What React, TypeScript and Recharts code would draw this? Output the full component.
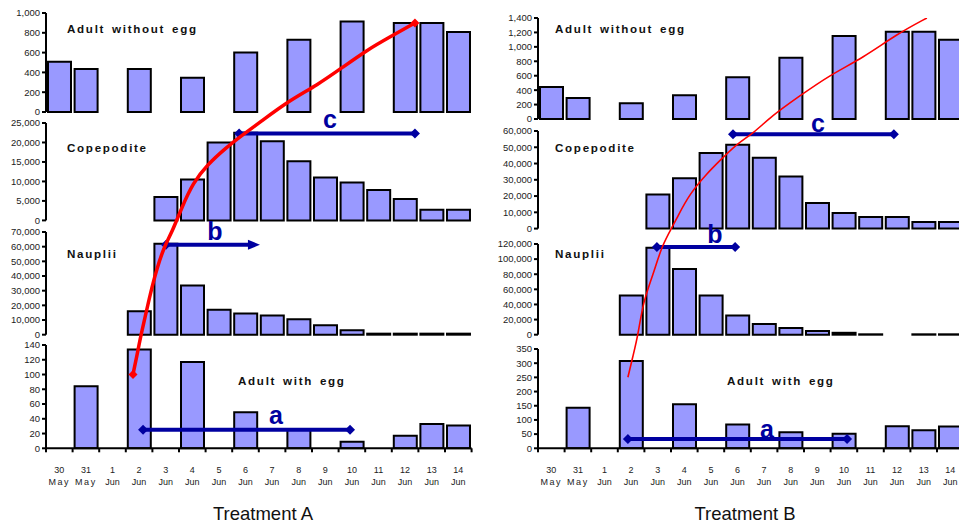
import React from "react";
import { ComposedChart, LineChart, Bar, Line, XAxis, YAxis } from "recharts";

// categories: 30 May .. 14 Jun
const dayLabels = ["30", "31", "1", "2", "3", "4", "5", "6", "7", "8", "9", "10", "11", "12", "13", "14"];
const monthLabels = ["May", "May", "Jun", "Jun", "Jun", "Jun", "Jun", "Jun", "Jun", "Jun", "Jun", "Jun", "Jun", "Jun", "Jun", "Jun"];

// Treatment A
const aAdult = [508, 434, null, 434, null, 346, null, 600, null, 729, null, 915, null, 898, 898, 807];
const aCope = [null, null, null, null, 6000, 10500, 20000, 22500, 20300, 15200, 11000, 9700, 7800, 5500, 2700, 2700];
const aNaup = [null, null, null, 16000, 62000, 33500, 17000, 14500, 13000, 10500, 6500, 3000, 700, 700, 700, 700];
const aEgg = [null, 84, null, 134, null, 117, null, 49, null, 25, null, 9, null, 17, 33, 31];

// Treatment B
const bAdult = [445, 290, null, 220, null, 330, null, 580, null, 850, null, 1150, null, 1210, 1210, 1100];
const bCope = [null, null, null, null, 21000, 31000, 46500, 51500, 43500, 32000, 15700, 9600, 7200, 7200, 4000, 4000];
const bNaup = [null, null, null, 52000, 115000, 87000, 52000, 25500, 14000, 9000, 5000, 2500, 500, null, 500, 500];
const bEgg = [null, 143, null, 308, null, 155, null, 84, null, 57, null, 51, null, 78, 64, 77];

// y ticks
const aAdultTicks = [0, 200, 400, 600, 800, 1000];
const aCopeTicks = [0, 5000, 10000, 15000, 20000, 25000];
const aNaupTicks = [0, 10000, 20000, 30000, 40000, 50000, 60000, 70000];
const aEggTicks = [0, 20, 40, 60, 80, 100, 120, 140];
const bAdultTicks = [0, 200, 400, 600, 800, 1000, 1200, 1400];
const bCopeTicks = [0, 10000, 20000, 30000, 40000, 50000, 60000];
const bNaupTicks = [0, 20000, 40000, 60000, 80000, 100000, 120000];
const bEggTicks = [0, 50, 100, 150, 200, 250, 300, 350];

// blue duration arrows (x = day index, v = value on that panel's axis)
const aArrowA = [{ x: 3.15, v: 25 }, { x: 10.93, v: 25 }];
const aArrowB = [{ x: 4.01, v: 61300 }, { x: 7.28, v: 61300 }];
const aArrowC = [{ x: 6.76, v: 22300 }, { x: 13.37, v: 22300 }];
const bArrowA = [{ x: 2.88, v: 33 }, { x: 11.12, v: 33 }];
const bArrowB = [{ x: 3.97, v: 116000 }, { x: 6.91, v: 116000 }];
const bArrowC = [{ x: 6.83, v: 58000 }, { x: 12.88, v: 58000 }];

type Stage = "adult" | "cope" | "naup" | "egg";

// red development curve, points given on the stage axis they sit on
const curveA: { x: number; s: Stage; v: number }[] = [
  { x: 2.77, s: "egg", v: 100 },
  { x: 2.96, s: "egg", v: 133 },
  { x: 3.07, s: "naup", v: 0 },
  { x: 3.22, s: "naup", v: 11600 },
  { x: 3.41, s: "naup", v: 27300 },
  { x: 3.67, s: "naup", v: 45700 },
  { x: 3.97, s: "naup", v: 61300 },
  { x: 4.24, s: "naup", v: 70200 },
  { x: 4.61, s: "cope", v: 3500 },
  { x: 5.03, s: "cope", v: 9700 },
  { x: 5.55, s: "cope", v: 14300 },
  { x: 6.3, s: "cope", v: 18900 },
  { x: 6.79, s: "cope", v: 21500 },
  { x: 7.55, s: "cope", v: 25300 },
  { x: 8.67, s: "adult", v: 120 },
  { x: 9.69, s: "adult", v: 270 },
  { x: 10.67, s: "adult", v: 455 },
  { x: 11.57, s: "adult", v: 626 },
  { x: 12.43, s: "adult", v: 758 },
  { x: 13.37, s: "adult", v: 900 },
];
const curveB: { x: number; s: Stage; v: number }[] = [
  { x: 2.88, s: "egg", v: 250 },
  { x: 3.07, s: "egg", v: 325 },
  { x: 3.26, s: "naup", v: 0 },
  { x: 3.45, s: "naup", v: 43700 },
  { x: 3.82, s: "naup", v: 79400 },
  { x: 4.16, s: "naup", v: 119000 },
  { x: 4.58, s: "cope", v: 2000 },
  { x: 4.73, s: "cope", v: 6900 },
  { x: 5.21, s: "cope", v: 21700 },
  { x: 5.85, s: "cope", v: 34000 },
  { x: 6.34, s: "cope", v: 42000 },
  { x: 6.98, s: "cope", v: 52400 },
  { x: 7.58, s: "cope", v: 58600 },
  { x: 8.3, s: "adult", v: 60 },
  { x: 9.24, s: "adult", v: 309 },
  { x: 10.48, s: "adult", v: 628 },
  { x: 11.72, s: "adult", v: 864 },
  { x: 13.0, s: "adult", v: 1196 },
  { x: 14.12, s: "adult", v: 1418 },
];

const FONT = "'Liberation Sans', Arial, sans-serif";
const BAR_FILL = "#9999ff";
const BLUE = "#0000a0";
const RED = "#ff0000";
const YW = 46;
const BAND = 26.6;
const PW = BAND * 16;

type Layout = { x0: number; panels: Record<Stage, [number, number]>; max: Record<Stage, number> };

const layoutA: Layout = {
  x0: 46,
  panels: { adult: [13, 112], cope: [123.3, 220.7], naup: [232.3, 335], egg: [345, 448.3] },
  max: { adult: 1000, cope: 25000, naup: 70000, egg: 140 },
};
const layoutB: Layout = {
  x0: 538,
  panels: { adult: [18.3, 119.3], cope: [130.7, 228.3], naup: [244.3, 335], egg: [349, 448.3] },
  max: { adult: 1400, cope: 60000, naup: 120000, egg: 350 },
};

const rowsOf = (values: (number | null)[]) => dayLabels.map((_, i) => ({ day: i, v: values[i] }));

function DayTick(props: any) {
  const { x, y, payload } = props;
  const i = Number(payload.value);
  const mark = (px: number) => <line x1={px} x2={px} y1={y - 4} y2={y} stroke="#000" strokeWidth={2} />;
  return (
    <g>
      {mark(x - BAND / 2)}
      {i === dayLabels.length - 1 && mark(x + BAND / 2)}
      <text x={x} y={y + 21} textAnchor="middle" fontSize={9} fontFamily={FONT} fill="#222">
        {dayLabels[i]}
      </text>
      <text x={x} y={y + 33} textAnchor="middle" fontSize={9} fontFamily={FONT} fill="#222" letterSpacing={monthLabels[i] === "May" ? 1.6 : 0}>
        {monthLabels[i]}
      </text>
    </g>
  );
}

function markerDot(color: string, r: number, count: number, arrowRight = false) {
  return (props: any) => {
    const { cx, cy, index } = props;
    if (cx == null || cy == null || (index !== 0 && index !== count - 1)) return <g key={index} />;
    if (index === count - 1 && arrowRight)
      return <path key={index} d={`M${cx + r + 2},${cy} L${cx - r},${cy - r} L${cx - r},${cy + r} Z`} fill={color} />;
    return <path key={index} d={`M${cx - r},${cy} L${cx},${cy - r} L${cx + r},${cy} L${cx},${cy + r} Z`} fill={color} />;
  };
}

function Panel(props: {
  layout: Layout;
  stage: Stage;
  values: (number | null)[];
  ticks: number[];
  arrow?: { x: number; v: number }[];
  arrowHead?: boolean;
  bottom?: boolean;
}) {
  const { layout, stage, values, ticks, arrow, arrowHead, bottom } = props;
  const [top, base] = layout.panels[stage];
  const mTop = 8;
  const mBottom = bottom ? 0 : 8;
  const xh = bottom ? 44 : 0;
  return (
    <div style={{ position: "absolute", left: layout.x0 - YW, top: top - mTop }}>
      <ComposedChart
        width={YW + PW + 6}
        height={mTop + (base - top) + mBottom + xh}
        data={rowsOf(values)}
        margin={{ top: mTop, right: 6, bottom: mBottom, left: 0 }}
        accessibilityLayer={false}
      >
        <XAxis
          xAxisId="c"
          dataKey="day"
          type="category"
          hide={!bottom}
          height={xh || 1}
          interval={0}
          tick={<DayTick />}
          tickSize={4}
          tickMargin={0}
          tickLine={false}
          axisLine={{ stroke: "#000", strokeWidth: 2 }}
        />
        <XAxis xAxisId="n" dataKey="x" type="number" domain={[-0.5, 15.5]} hide />
        <YAxis
          type="number"
          domain={[0, ticks[ticks.length - 1]]}
          ticks={ticks}
          interval={0}
          width={YW}
          tickSize={4}
          tickMargin={2}
          axisLine={{ stroke: "#000", strokeWidth: 2 }}
          tickLine={{ stroke: "#000", strokeWidth: 2 }}
          tick={{ fontSize: 9.5, fill: "#222", fontFamily: FONT }}
          tickFormatter={(v: number) => v.toLocaleString("en-US")}
        />
        <Bar xAxisId="c" dataKey="v" fill={BAR_FILL} stroke="#000" strokeWidth={2} barSize={23} isAnimationActive={false} />
        {arrow && (
          <Line
            xAxisId="n"
            data={arrow}
            dataKey="v"
            stroke={BLUE}
            strokeWidth={4}
            dot={markerDot(BLUE, 5, arrow.length, arrowHead)}
            activeDot={false}
            isAnimationActive={false}
          />
        )}
      </ComposedChart>
    </div>
  );
}

function Curve({ layout, points, width, marks }: { layout: Layout; points: { x: number; s: Stage; v: number }[]; width: number; marks?: boolean }) {
  const top = layout.panels.adult[0];
  const bottom = layout.panels.egg[1];
  const h = bottom - top;
  const toY = (s: Stage, v: number) => {
    const [pt, pb] = layout.panels[s];
    return bottom - (pb - (v / layout.max[s]) * (pb - pt));
  };
  const data = points.map((p) => ({ x: p.x, y: toY(p.s, p.v) }));
  return (
    <div style={{ position: "absolute", left: layout.x0, top, pointerEvents: "none" }}>
      <LineChart width={PW} height={h} data={data} margin={{ top: 0, right: 0, bottom: 0, left: 0 }} accessibilityLayer={false}>
        <XAxis type="number" dataKey="x" domain={[-0.5, 15.5]} hide />
        <YAxis type="number" domain={[0, h]} hide />
        <Line
          dataKey="y"
          type="basis"
          stroke={RED}
          strokeWidth={width}
          dot={marks ? markerDot(RED, 4.5, data.length) : false}
          activeDot={false}
          isAnimationActive={false}
        />
      </LineChart>
    </div>
  );
}

const titleStyle = { fontFamily: FONT, fontWeight: 700, fontSize: 11.6, fill: "#111", letterSpacing: 1.7, wordSpacing: 2 } as const;
const letterStyle = { fontFamily: FONT, fontWeight: 700, fontSize: 25, fill: BLUE } as const;

export default function App() {
  return (
    <div style={{ position: "fixed", left: 0, top: 0, width: 959, height: 529, overflow: "hidden", background: "#fff" }}>
      <Panel layout={layoutA} stage="adult" values={aAdult} ticks={aAdultTicks} />
      <Panel layout={layoutA} stage="cope" values={aCope} ticks={aCopeTicks} arrow={aArrowC} />
      <Panel layout={layoutA} stage="naup" values={aNaup} ticks={aNaupTicks} arrow={aArrowB} arrowHead />
      <Panel layout={layoutA} stage="egg" values={aEgg} ticks={aEggTicks} arrow={aArrowA} bottom />

      <Panel layout={layoutB} stage="adult" values={bAdult} ticks={bAdultTicks} />
      <Panel layout={layoutB} stage="cope" values={bCope} ticks={bCopeTicks} arrow={bArrowC} />
      <Panel layout={layoutB} stage="naup" values={bNaup} ticks={bNaupTicks} arrow={bArrowB} />
      <Panel layout={layoutB} stage="egg" values={bEgg} ticks={bEggTicks} arrow={bArrowA} bottom />

      <Curve layout={layoutA} points={curveA} width={3.5} marks />
      <Curve layout={layoutB} points={curveB} width={1.6} />

      <svg width={959} height={529} style={{ position: "absolute", left: 0, top: 0, pointerEvents: "none" }}>
        <text x={67} y={33} style={titleStyle}>Adult without egg</text>
        <text x={67} y={152} style={titleStyle}>Copepodite</text>
        <text x={67} y={258} style={titleStyle}>Nauplii</text>
        <text x={238} y={385} style={titleStyle}>Adult with egg</text>
        <text x={555} y={33} style={titleStyle}>Adult without egg</text>
        <text x={555} y={152} style={titleStyle}>Copepodite</text>
        <text x={555} y={258} style={titleStyle}>Nauplii</text>
        <text x={727} y={385} style={titleStyle}>Adult with egg</text>

        <text x={330} y={128} textAnchor="middle" style={letterStyle}>c</text>
        <text x={215} y={240} textAnchor="middle" style={letterStyle}>b</text>
        <text x={276} y={424} textAnchor="middle" style={letterStyle}>a</text>
        <text x={818} y={132} textAnchor="middle" style={letterStyle}>c</text>
        <text x={715} y={243} textAnchor="middle" style={letterStyle}>b</text>
        <text x={767} y={438} textAnchor="middle" style={letterStyle}>a</text>

        <text x={263} y={520} textAnchor="middle" style={{ fontFamily: FONT, fontSize: 18.5, fill: "#111" }}>Treatment A</text>
        <text x={745} y={520} textAnchor="middle" style={{ fontFamily: FONT, fontSize: 18.5, fill: "#111" }}>Treatment B</text>
      </svg>
    </div>
  );
}
